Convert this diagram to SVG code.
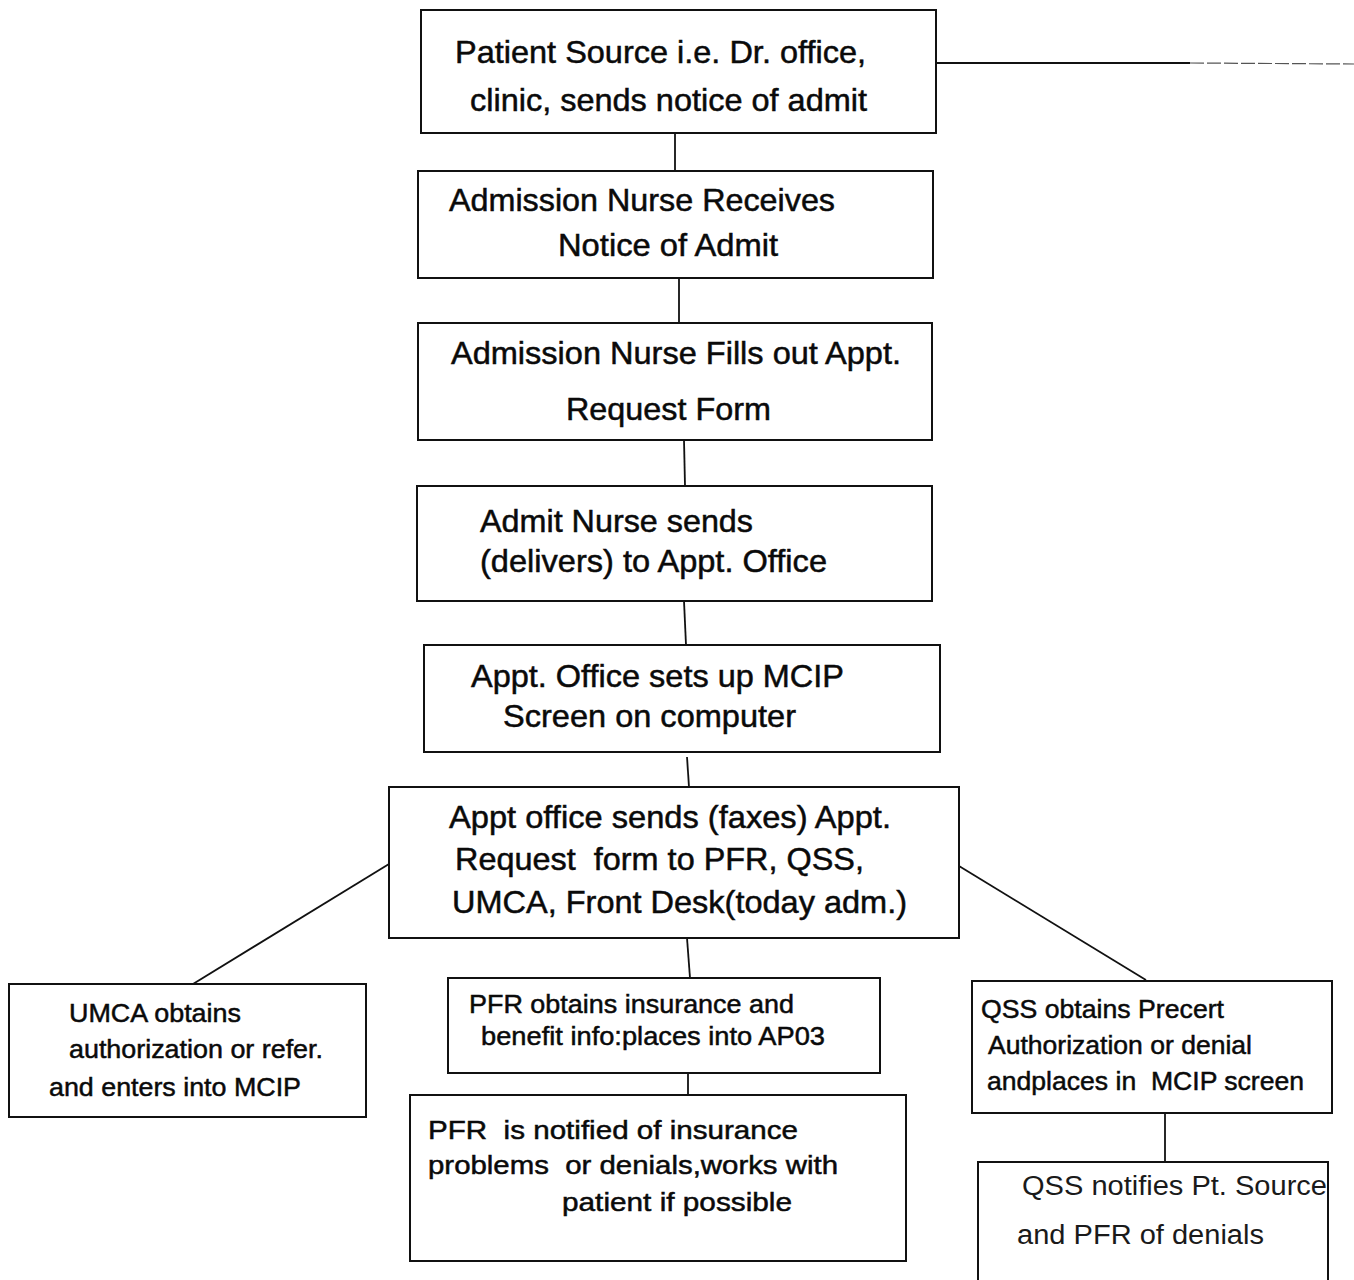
<svg xmlns="http://www.w3.org/2000/svg" width="1354" height="1280" viewBox="0 0 1354 1280">
<style>
  .box { fill: #ffffff; stroke: #111111; stroke-width: 2; }
  .conn { stroke: #111111; stroke-width: 1.8; fill: none; }
  .t { font-family: "Liberation Sans", Arial, Helvetica, sans-serif; fill: #0a0a0a; stroke: #0a0a0a; stroke-width: 0.5; white-space: pre; }
  .big { font-size: 32px; }
  .small { font-size: 26.5px; }
  .light { font-size: 27px; fill: #1a1a1a; stroke: none; }
</style>
<rect x="0" y="0" width="1354" height="1280" fill="#ffffff"/>

<g id="connectors">
  <line class="conn" x1="675" y1="133" x2="675" y2="171"/>
  <line class="conn" x1="679" y1="278" x2="679" y2="323"/>
  <line class="conn" x1="684" y1="440" x2="685" y2="486"/>
  <line class="conn" x1="684" y1="601" x2="686" y2="645"/>
  <line class="conn" x1="687" y1="757" x2="689" y2="787"/>
  <line class="conn" x1="687" y1="938" x2="690" y2="978"/>
  <line class="conn" x1="389" y1="864" x2="193" y2="984"/>
  <line class="conn" x1="959" y1="866" x2="1146" y2="980"/>
  <line class="conn" x1="688" y1="1073" x2="688" y2="1095"/>
  <line class="conn" x1="1165" y1="1113" x2="1165" y2="1162"/>
  <line class="conn" x1="936" y1="63" x2="1190" y2="63"/>
  <line x1="1190" y1="63" x2="1354" y2="64" stroke="#555555" stroke-width="1.2" stroke-dasharray="14 3"/>
</g>

<g id="patient-source">
  <rect class="box" x="421" y="10" width="515" height="123"/>
  <text class="t big" x="455" y="63" textLength="411" lengthAdjust="spacingAndGlyphs">Patient Source i.e. Dr. office,</text>
  <text class="t big" x="470" y="111" textLength="397" lengthAdjust="spacingAndGlyphs">clinic, sends notice of admit</text>
</g>

<g id="nurse-receives">
  <rect class="box" x="418" y="171" width="515" height="107"/>
  <text class="t big" x="449" y="211" textLength="386" lengthAdjust="spacingAndGlyphs">Admission Nurse Receives</text>
  <text class="t big" x="558" y="256" textLength="220" lengthAdjust="spacingAndGlyphs">Notice of Admit</text>
</g>

<g id="nurse-fills">
  <rect class="box" x="418" y="323" width="514" height="117"/>
  <text class="t big" x="451" y="364" textLength="450" lengthAdjust="spacingAndGlyphs">Admission Nurse Fills out Appt.</text>
  <text class="t big" x="566" y="420" textLength="205" lengthAdjust="spacingAndGlyphs">Request Form</text>
</g>

<g id="nurse-sends">
  <rect class="box" x="417" y="486" width="515" height="115"/>
  <text class="t big" x="480" y="532" textLength="273" lengthAdjust="spacingAndGlyphs">Admit Nurse sends</text>
  <text class="t big" x="480" y="572" textLength="347" lengthAdjust="spacingAndGlyphs">(delivers) to Appt. Office</text>
</g>

<g id="appt-office-setup">
  <rect class="box" x="424" y="645" width="516" height="107"/>
  <text class="t big" x="471" y="687" textLength="373" lengthAdjust="spacingAndGlyphs">Appt. Office sets up MCIP</text>
  <text class="t big" x="503" y="727" textLength="293" lengthAdjust="spacingAndGlyphs">Screen on computer</text>
</g>

<g id="appt-office-sends">
  <rect class="box" x="389" y="787" width="570" height="151"/>
  <text class="t big" x="449" y="828" textLength="442" lengthAdjust="spacingAndGlyphs">Appt office sends (faxes) Appt.</text>
  <text class="t big" x="455" y="870" textLength="409" lengthAdjust="spacingAndGlyphs">Request  form to PFR, QSS,</text>
  <text class="t big" x="452" y="913" textLength="455" lengthAdjust="spacingAndGlyphs">UMCA, Front Desk(today adm.)</text>
</g>

<g id="umca">
  <rect class="box" x="9" y="984" width="357" height="133"/>
  <text class="t small" x="69" y="1022" textLength="172" lengthAdjust="spacingAndGlyphs">UMCA obtains</text>
  <text class="t small" x="69" y="1058" textLength="254" lengthAdjust="spacingAndGlyphs">authorization or refer.</text>
  <text class="t small" x="49" y="1096" textLength="252" lengthAdjust="spacingAndGlyphs">and enters into MCIP</text>
</g>

<g id="pfr-obtains">
  <rect class="box" x="448" y="978" width="432" height="95"/>
  <text class="t small" x="469" y="1013" textLength="325" lengthAdjust="spacingAndGlyphs">PFR obtains insurance and</text>
  <text class="t small" x="481" y="1045" textLength="344" lengthAdjust="spacingAndGlyphs">benefit info:places into AP03</text>
</g>

<g id="pfr-notified">
  <rect class="box" x="410" y="1095" width="496" height="166"/>
  <text class="t small" x="428" y="1139" textLength="370" lengthAdjust="spacingAndGlyphs">PFR  is notified of insurance</text>
  <text class="t small" x="428" y="1174" textLength="410" lengthAdjust="spacingAndGlyphs">problems  or denials,works with</text>
  <text class="t small" x="562" y="1211" textLength="230" lengthAdjust="spacingAndGlyphs">patient if possible</text>
</g>

<g id="qss-obtains">
  <rect class="box" x="972" y="981" width="360" height="132"/>
  <text class="t small" x="981" y="1018" textLength="243" lengthAdjust="spacingAndGlyphs">QSS obtains Precert</text>
  <text class="t small" x="988" y="1054" textLength="264" lengthAdjust="spacingAndGlyphs">Authorization or denial</text>
  <text class="t small" x="987" y="1090" textLength="317" lengthAdjust="spacingAndGlyphs">andplaces in  MCIP screen</text>
</g>

<g id="qss-notifies">
  <rect class="box" x="978" y="1162" width="350" height="130"/>
  <text class="t light" x="1022" y="1195" textLength="305" lengthAdjust="spacingAndGlyphs">QSS notifies Pt. Source</text>
  <text class="t light" x="1017" y="1244" textLength="247" lengthAdjust="spacingAndGlyphs">and PFR of denials</text>
</g>
</svg>
